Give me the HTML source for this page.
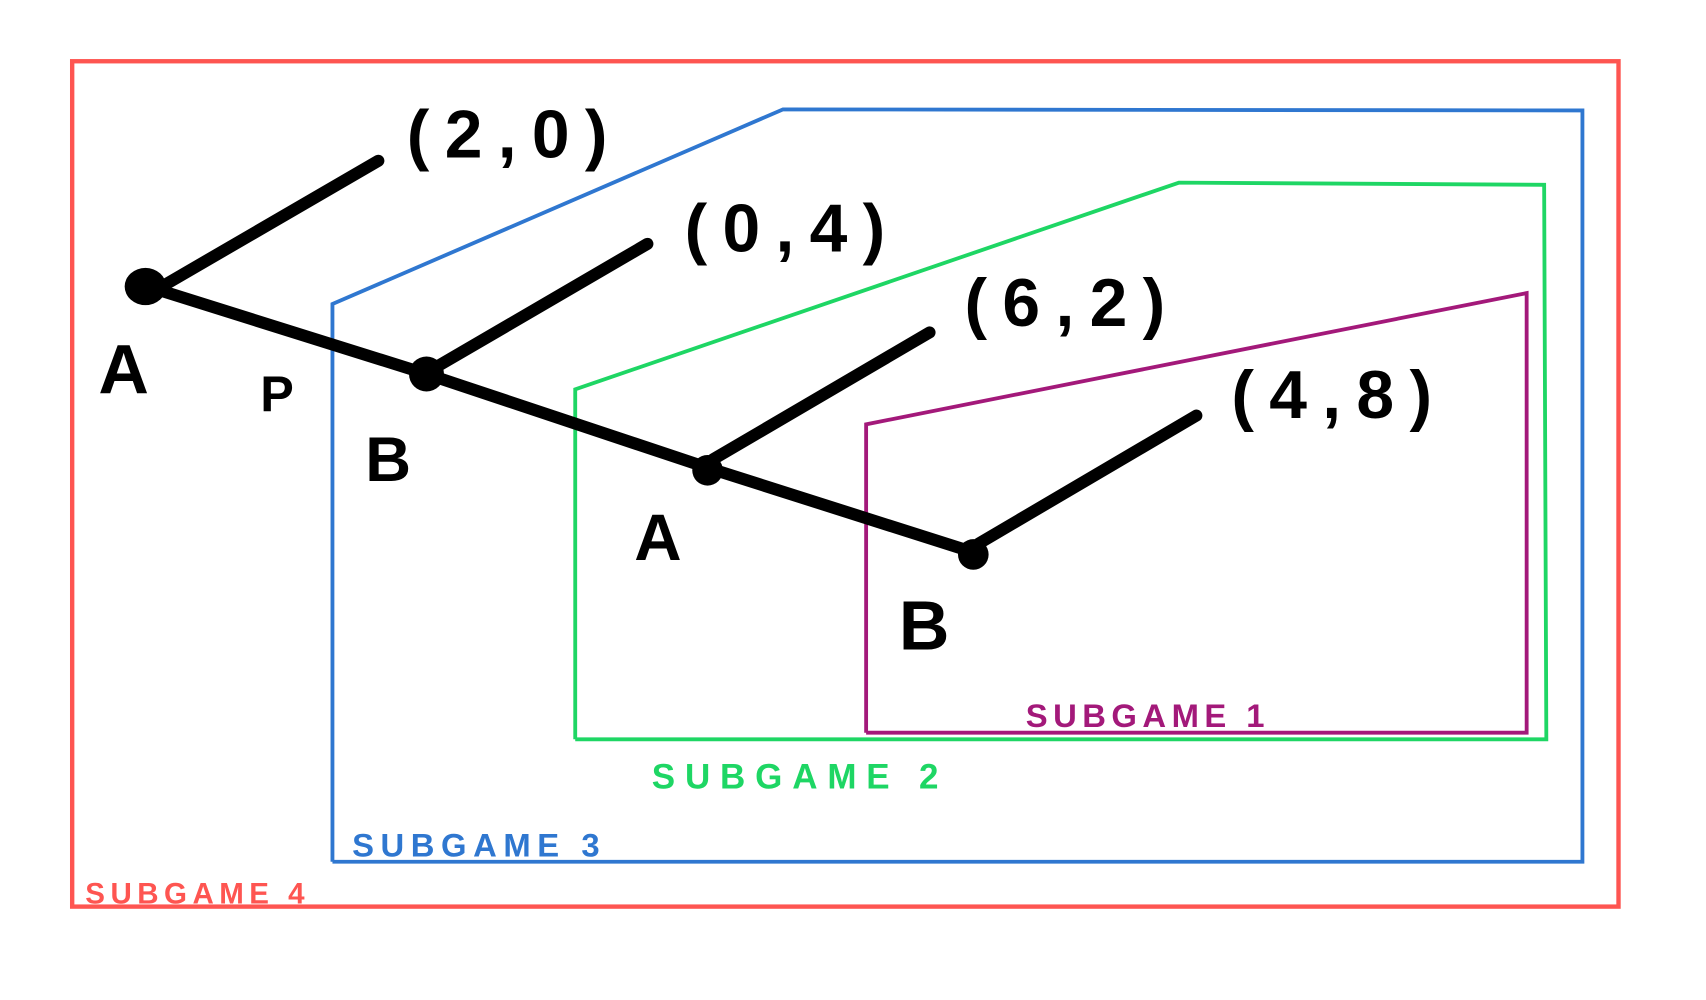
<!DOCTYPE html>
<html><head><style>
html,body{margin:0;padding:0;background:#fff;}
svg{display:block;}
text{font-family:"Liberation Sans",sans-serif;font-weight:bold;}
</style></head><body>
<svg width="1706" height="1000" viewBox="0 0 1560 914.4" preserveAspectRatio="none" xmlns="http://www.w3.org/2000/svg">
<rect width="1560" height="915" fill="#fff"/>
<g fill="none" stroke-linejoin="miter">
<rect x="66" y="56" width="1414" height="773" stroke="#fe5551" stroke-width="4"/>
<polyline points="304,788 304,278 716,100 1447,101 1447,788 304,788" stroke="#2f77d0" stroke-width="3.5"/>
<polyline points="526,676 526,356 1078,167 1412,169 1414,676 526,676" stroke="#1ed664" stroke-width="3.5"/>
<polyline points="792,670 792,388 1396,268 1396,670 792,670" stroke="#a3197a" stroke-width="3.5"/>
</g>
<g stroke="#000" stroke-width="11" stroke-linecap="round" fill="none">
<polyline points="135,262 390,342 648,428 890,505"/>
<line x1="148" y1="262" x2="346" y2="147"/>
<line x1="400" y1="335" x2="592" y2="223"/>
<line x1="652" y1="420" x2="850" y2="304"/>
<line x1="895" y1="497" x2="1094" y2="380"/>
</g>
<g fill="#000">
<ellipse cx="133" cy="262" rx="19" ry="17"/>
<circle cx="390" cy="342" r="16"/>
<circle cx="647" cy="430" r="14"/>
<circle cx="890" cy="507" r="14"/>
</g>
<g fill="#000" font-size="62">
<text x="372" y="144" letter-spacing="14">(2,0)</text>
<text x="626" y="230" letter-spacing="14">(0,4)</text>
<text x="882" y="298" letter-spacing="14">(6,2)</text>
<text x="1126" y="382" letter-spacing="14">(4,8)</text>
<text x="90" y="360" font-size="64">A</text>
<text x="238" y="376" font-size="46">P</text>
<text x="334" y="440" font-size="58">B</text>
<text x="580" y="512" font-size="60">A</text>
<text x="822" y="594" font-size="64">B</text>
</g>
<text x="938" y="665" font-size="30" fill="#a3197a" letter-spacing="5">SUBGAME 1</text>
<text x="596" y="721" font-size="32" fill="#1ed664" letter-spacing="9">SUBGAME 2</text>
<text x="322" y="783" font-size="30" fill="#2f77d0" letter-spacing="6">SUBGAME 3</text>
<text x="78" y="826" font-size="27" fill="#fe5551" letter-spacing="5">SUBGAME 4</text>
</svg>
</body></html>
